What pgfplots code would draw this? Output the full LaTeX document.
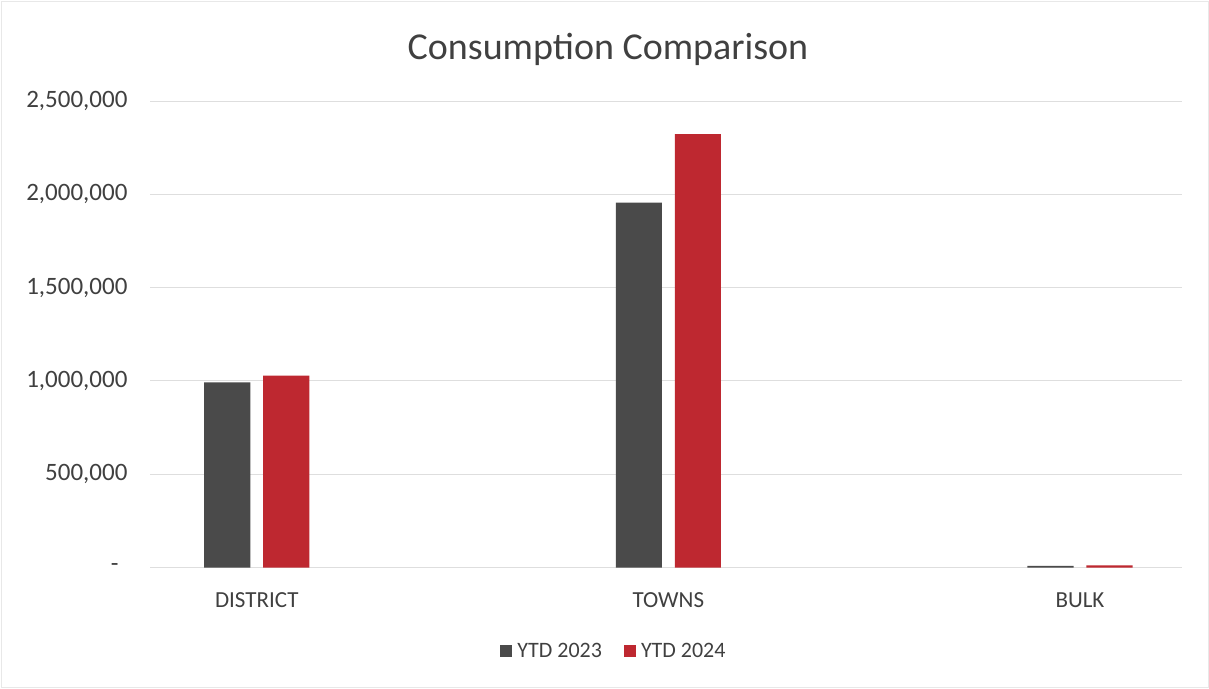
\documentclass[border=0pt]{standalone}
\usepackage{pgfplots}
\pgfplotsset{compat=1.18}
\usepackage{fontspec}
\setmainfont{Carlito}
\definecolor{barGray}{RGB}{74,74,74}
\definecolor{barRed}{RGB}{190,40,48}
\definecolor{txt}{RGB}{64,64,64}
\definecolor{gridc}{RGB}{222,222,222}
\begin{document}
\begin{tikzpicture}
\useasboundingbox (0pt,0pt) rectangle (1209pt,-688pt);
\draw[gray!18, line width=1pt] (1pt,-1pt) rectangle (1208pt,-687pt);
\begin{axis}[
  at={(150pt,-567.5pt)}, anchor=south west,
  scale only axis, width=1032pt, height=466.5pt,
  ybar,
  bar width=0.112,
  xmin=-0.2594, xmax=2.248,
  ymin=0, ymax=2500000,
  scaled y ticks=false,
  xtick={0,1,2},
  xticklabels={DISTRICT,TOWNS,BULK},
  ytick={0,500000,1000000,1500000,2000000,2500000},
  yticklabels={{-\rule{9pt}{0pt}},{500,000},{1,000,000},{1,500,000},{2,000,000},{2,500,000}},
  ymajorgrids,
  grid style={gridc, line width=1pt},
  axis line style={draw=none},
  tick style={draw=none},
  major tick length=0pt,
  yticklabel style={font=\fontsize{25}{25}\selectfont, text=txt, xshift=-19pt},
  xticklabel style={font=\fontsize{23}{23}\selectfont, text=txt, yshift=-22pt},
  title={Consumption Comparison},
  title style={at={(0.4438,1.090)}, anchor=base, yshift=-6pt, font=\fontsize{38}{38}\selectfont, text=txt},
  legend style={at={(0.4496,-0.179)}, anchor=center, draw=none, fill=none,
    legend columns=2, font=\fontsize{22}{22}\selectfont, text=txt,
    /tikz/every odd column/.append style={column sep=3pt},
    /tikz/every even column/.append style={column sep=20pt},
    legend cell align=left},
  legend image code/.code={\fill[#1] (0pt,-6pt) rectangle (12pt,6pt);},
]
\addplot[fill=barGray, draw=none, bar shift=-0.0717] coordinates {(0,992000) (1,1956000) (2,9000)};
\addplot[fill=barRed, draw=none, bar shift=0.0717] coordinates {(0,1028000) (1,2322000) (2,12000)};
\legend{YTD 2023, YTD 2024}
\end{axis}
\end{tikzpicture}
\end{document}
